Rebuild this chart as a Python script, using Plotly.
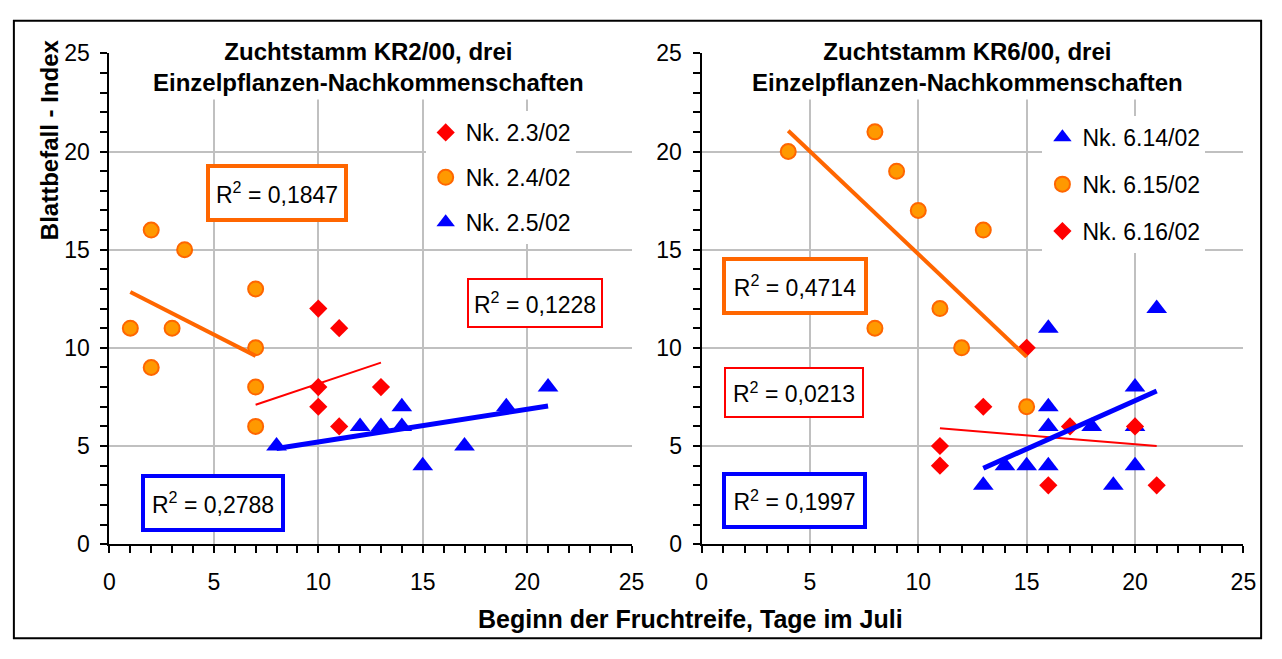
import plotly.graph_objects as go

# ---------------- data ----------------
# left panel: Zuchtstamm KR2/00
left_23_x = [10, 11, 10, 13, 10, 11]
left_23_y = [12, 11, 8, 8, 7, 6]
left_24_x = [1, 2, 2, 3, 3.6, 7, 7, 7, 7]
left_24_y = [11, 16, 9, 11, 15, 13, 10, 8, 6]
left_25_x = [8, 12, 13, 14, 14, 15, 17, 19, 21]
left_25_y = [5, 6, 6, 7, 6, 4, 5, 7, 8]

# right panel: Zuchtstamm KR6/00
right_614_x = [13, 14, 15, 16, 16, 16, 16, 18, 19, 20, 20, 20, 21]
right_614_y = [3, 4, 4, 4, 6, 7, 11, 6, 3, 8, 6, 4, 12]
right_615_x = [4, 8, 9, 10, 13, 11, 8, 12, 15]
right_615_y = [20, 21, 19, 17, 16, 12, 11, 10, 7]
right_616_x = [15, 13, 11, 11, 17, 20, 16, 21]
right_616_y = [10, 7, 5, 4, 6, 6, 3, 3]

# linear trend lines (end points)
trend_l24_x = [1, 7];   trend_l24_y = [12.84, 9.59]
trend_l23_x = [7, 13];  trend_l23_y = [7.1, 9.25]
trend_l25_x = [8, 21];  trend_l25_y = [4.87, 7.04]
trend_r615_x = [4, 15]; trend_r615_y = [21.06, 9.54]
trend_r616_x = [11, 21]; trend_r616_y = [5.9, 5.0]
trend_r614_x = [13, 21]; trend_r614_y = [3.87, 7.8]

# R² labels
r2_left = ["0,1847", "0,1228", "0,2788"]    # orange, red, blue
r2_right = ["0,4714", "0,0213", "0,1997"]   # orange, red, blue

legend_left = ["Nk. 2.3/02", "Nk. 2.4/02", "Nk. 2.5/02"]
legend_right = ["Nk. 6.14/02", "Nk. 6.15/02", "Nk. 6.16/02"]
title_left = ["Zuchtstamm KR2/00, drei", "Einzelpflanzen-Nachkommenschaften"]
title_right = ["Zuchtstamm KR6/00, drei", "Einzelpflanzen-Nachkommenschaften"]
x_title = "Beginn der Fruchtreife, Tage im Juli"
y_title = "Blattbefall - Index"

# ---------------- styling ----------------
W, H = 1282, 659
FONT = "Arial, 'Liberation Sans', sans-serif"
FS = 23
FT = 24
RED = "#FF0000"
ORANGE_FILL = "#FF9900"
ORANGE = "#FF6600"
BLUE = "#0000FF"
GRID = "#C0C0C0"


def PX(x):
    return x / W


def PY(y):
    return 1 - y / H


red_marker = dict(symbol="diamond", size=14, color=RED, line=dict(width=0))
orange_marker = dict(symbol="circle", size=15, color=ORANGE_FILL, line=dict(color=ORANGE, width=2))
blue_marker = dict(symbol="triangle-up", size=18, color=BLUE, line=dict(width=0))

fig = go.Figure()

# ---- left panel markers
fig.add_trace(go.Scatter(x=left_23_x, y=left_23_y, mode="markers", marker=red_marker,
                         name=legend_left[0], legendgroup="l1", legend="legend",
                         xaxis="x", yaxis="y"))
fig.add_trace(go.Scatter(x=left_24_x, y=left_24_y, mode="markers", marker=orange_marker,
                         name=legend_left[1], legendgroup="l2", legend="legend",
                         xaxis="x", yaxis="y"))
fig.add_trace(go.Scatter(x=left_25_x, y=left_25_y, mode="markers", marker=blue_marker,
                         name=legend_left[2], legendgroup="l3", legend="legend",
                         xaxis="x", yaxis="y"))
# ---- left trend lines
fig.add_trace(go.Scatter(x=trend_l24_x, y=trend_l24_y, mode="lines", line=dict(color=ORANGE, width=4),
                         showlegend=False, xaxis="x", yaxis="y"))
fig.add_trace(go.Scatter(x=trend_l23_x, y=trend_l23_y, mode="lines", line=dict(color=RED, width=2),
                         showlegend=False, xaxis="x", yaxis="y"))
fig.add_trace(go.Scatter(x=trend_l25_x, y=trend_l25_y, mode="lines", line=dict(color=BLUE, width=5),
                         showlegend=False, xaxis="x", yaxis="y"))

# ---- right panel markers
fig.add_trace(go.Scatter(x=right_614_x, y=right_614_y, mode="markers", marker=blue_marker,
                         name=legend_right[0], legendgroup="r1", legend="legend2",
                         xaxis="x2", yaxis="y2"))
fig.add_trace(go.Scatter(x=right_615_x, y=right_615_y, mode="markers", marker=orange_marker,
                         name=legend_right[1], legendgroup="r2", legend="legend2",
                         xaxis="x2", yaxis="y2"))
fig.add_trace(go.Scatter(x=right_616_x, y=right_616_y, mode="markers", marker=red_marker,
                         name=legend_right[2], legendgroup="r3", legend="legend2",
                         xaxis="x2", yaxis="y2"))
# ---- right trend lines
fig.add_trace(go.Scatter(x=trend_r615_x, y=trend_r615_y, mode="lines", line=dict(color=ORANGE, width=4),
                         showlegend=False, xaxis="x2", yaxis="y2"))
fig.add_trace(go.Scatter(x=trend_r616_x, y=trend_r616_y, mode="lines", line=dict(color=RED, width=2),
                         showlegend=False, xaxis="x2", yaxis="y2"))
fig.add_trace(go.Scatter(x=trend_r614_x, y=trend_r614_y, mode="lines", line=dict(color=BLUE, width=5),
                         showlegend=False, xaxis="x2", yaxis="y2"))

tickfont = dict(size=FS, family=FONT, color="black")
minor = dict(dtick=1, ticks="outside", ticklen=7, tickwidth=2, tickcolor="black", showgrid=False)


def xaxis(domain, anchor):
    return dict(domain=domain, anchor=anchor, range=[0, 25], tick0=0, dtick=5,
                showgrid=True, gridcolor=GRID, gridwidth=2, zeroline=False,
                showline=True, linecolor="black", linewidth=2,
                ticks="outside", ticklen=7, tickwidth=2, tickcolor="black",
                minor=minor, tickfont=tickfont, ticklabelstandoff=9, fixedrange=True)


def yaxis(anchor):
    return dict(domain=[PY(553), PY(42)], anchor=anchor, range=[0, 25], tick0=0, dtick=5,
                showgrid=True, gridcolor=GRID, gridwidth=2, zeroline=False,
                showline=True, linecolor="black", linewidth=2,
                ticks="outside", ticklen=7, tickwidth=2, tickcolor="black",
                minor=minor, tickfont=tickfont, ticklabelstandoff=6, fixedrange=True)


legend_common = dict(xanchor="left", yanchor="top", bgcolor="white", borderwidth=0,
                     font=dict(size=FS, family=FONT, color="black"),
                     traceorder="grouped", itemsizing="trace")

annotations = []


def r2_box(text, cx, cy, color, bw, w, h):
    annotations.append(dict(
        text="R<sup>2</sup> = " + text, x=PX(cx), y=PY(cy), xref="paper", yref="paper",
        xanchor="center", yanchor="middle", showarrow=False,
        font=dict(size=FS, family=FONT, color="black"),
        bgcolor="white", bordercolor=color, borderwidth=bw, borderpad=0,
        width=w, height=h))


r2_box(r2_left[0], 275, 187, ORANGE, 4, 134, 50)
r2_box(r2_left[1], 537, 302, RED, 2, 132, 46)
r2_box(r2_left[2], 210, 510, BLUE, 4, 136, 50)
r2_box(r2_right[0], 801, 284, ORANGE, 4, 138, 50)
r2_box(r2_right[1], 800, 395, RED, 2, 136, 47)
r2_box(r2_right[2], 800, 508, BLUE, 4, 137, 49)

for t, cx in ((title_left, 368), (title_right, 976)):
    annotations.append(dict(
        text="<b>" + t[0] + "</b><br><b>" + t[1] + "</b>",
        x=PX(cx), y=PY(56), xref="paper", yref="paper", xanchor="center", yanchor="middle",
        showarrow=False, font=dict(size=FT, family=FONT, color="black"),
        bgcolor="white", borderpad=3))

annotations.append(dict(text="<b>" + x_title + "</b>", x=PX(695), y=PY(631), xref="paper", yref="paper",
                        xanchor="center", yanchor="middle", showarrow=False,
                        font=dict(size=25, family=FONT, color="black")))
annotations.append(dict(text="<b>" + y_title + "</b>", x=PX(44), y=PY(132), xref="paper", yref="paper",
                        xanchor="center", yanchor="middle", showarrow=False, textangle=-90,
                        font=dict(size=FT, family=FONT, color="black")))

fig.update_layout(
    width=W, height=H, margin=dict(l=0, r=0, t=0, b=0),
    paper_bgcolor="white", plot_bgcolor="white",
    xaxis=xaxis([PX(105), PX(635)], "y"),
    yaxis=yaxis("x"),
    xaxis2=xaxis([PX(706), PX(1256)], "y2"),
    yaxis2=yaxis("x2"),
    legend=dict(x=PX(426), y=PY(102), tracegroupgap=12, **legend_common),
    legend2=dict(x=PX(1052), y=PY(107), tracegroupgap=14, **legend_common),
    annotations=annotations,
    shapes=[dict(type="rect", xref="paper", yref="paper", x0=PX(8), x1=PX(1274), y0=PY(651), y1=PY(8),
                 line=dict(color="black", width=2), fillcolor="rgba(0,0,0,0)", layer="above")],
    showlegend=True,
)

fig.write_html("out.html")
